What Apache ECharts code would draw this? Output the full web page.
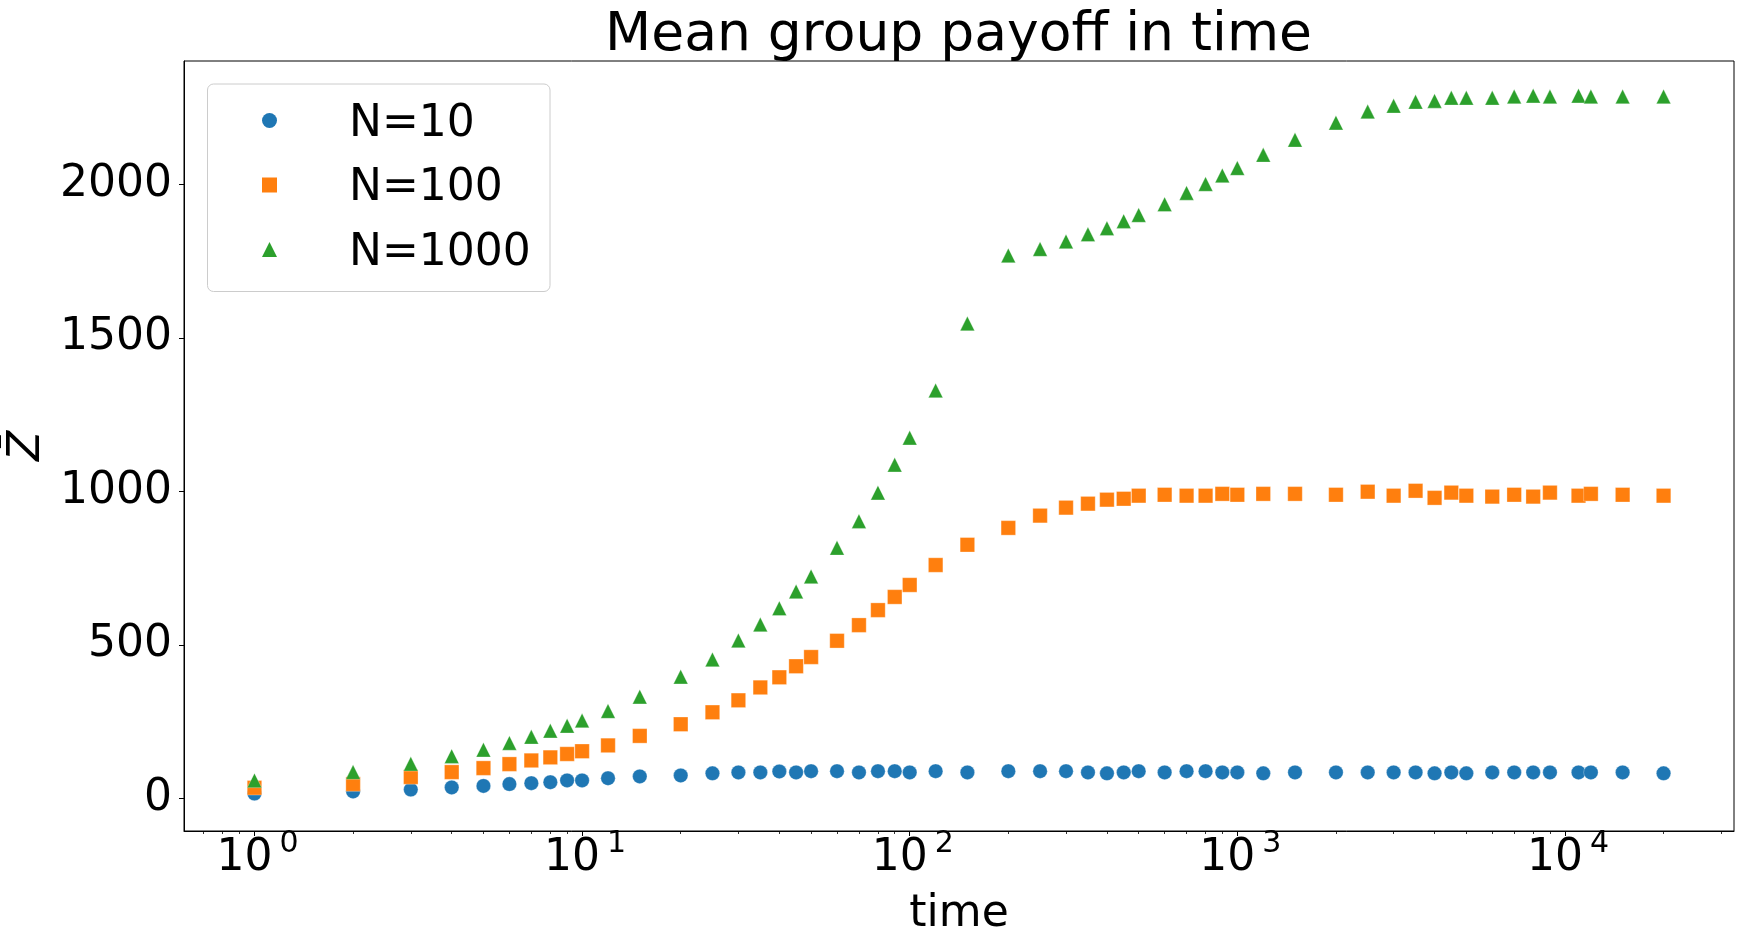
<!DOCTYPE html>
<html><head><meta charset="utf-8">
<script src="https://cdn.jsdelivr.net/npm/echarts@6/dist/echarts.min.js"></script>
<style>html,body{margin:0;padding:0;background:#fff}#c{width:1744px;height:944px}</style>
</head><body><div id="c"></div>
<script>
// ---- data ----
const times = [1,2,3,4,5,6,7,8,9,10,12,15,20,25,30,35,40,45,50,60,70,80,90,100,120,150,200,250,300,350,400,450,500,600,700,800,900,1000,1200,1500,2000,2500,3000,3500,4000,4500,5000,6000,7000,8000,9000,11000,12000,15000,20000];
const zN10 = [15,22,28,35,40,46,49,52,58,58,65,71,74,81,84,84,87,84,88,88,84,88,88,84,88,84,88,88,88,84,81,84,88,84,88,88,84,84,81,84,84,84,84,84,81,84,81,84,84,84,84,84,84,84,81];
const zN100 = [34,46,69,85,98,111,123,133,144,153,172,203,241,280,319,361,394,430,460,513,564,613,656,695,760,826,881,921,947,960,973,976,986,989,986,986,992,989,992,992,989,999,986,1002,979,996,986,983,989,983,996,986,992,989,986];
const zN1000 = [58,85,112,137,158,180,200,220,236,253,284,331,396,452,514,566,619,674,723,816,903,996,1087,1175,1329,1547,1769,1790,1815,1838,1858,1881,1901,1936,1973,2002,2030,2054,2097,2146,2202,2238,2257,2270,2273,2283,2283,2283,2287,2290,2287,2290,2287,2287,2287];
const seriesNames = ['N=10','N=100','N=1000'];
const xMajorTicks = [1,10,100,1000,10000];
const xMinorTicks = [0.7,0.8,0.9,2,3,4,5,6,7,8,9,20,30,40,50,60,70,80,90,200,300,400,500,600,700,800,900,2000,3000,4000,5000,6000,7000,8000,9000,20000,30000];
const yTicks = [0,500,1000,1500,2000];
const titleText = 'Mean group payoff in time';
const xName = 'time';
const yName = 'Z\u0304';

const FONT = 'DejaVu Sans';
const colors = ['#1f77b4','#ff7f0e','#2ca02c'];
const symbols = ['circle','rect','triangle'];
const legendIcons = ['circle','rect','triangle'];
const allZ = [zN10, zN100, zN1000];

const chart = echarts.init(document.getElementById('c'), null, {renderer:'canvas'});
const option = {
  animation: false,
  backgroundColor: '#fff',
  textStyle: {fontFamily: FONT},
  title: {
    text: titleText, left: 958.5, top: 6, padding: 0, textAlign: 'center',
    textStyle: {fontFamily: FONT, fontSize: 53.5, fontWeight: 'normal', color: '#000', lineHeight: 60}
  },
  grid: {left: 184, right: 10, top: 61, bottom: 113, show: true, borderColor: '#000', borderWidth: 1, containLabel: false, outerBoundsMode: 'none'},
  legend: {
    orient: 'vertical', left: 262, top: 94.5, padding: 0, itemWidth: 15, itemHeight: 15, itemGap: 12.5,
    z: 5, selectedMode: false,
    formatter: name => '{g|}{t|' + name + '}',
    textStyle: {
      fontFamily: FONT, fontSize: 44, lineHeight: 50, color: '#000',
      rich: {
        g: {width: 67, lineHeight: 50},
        t: {fontFamily: FONT, fontSize: 44, lineHeight: 50, padding: [8,0,0,0], color: '#000'}
      }
    },
    data: seriesNames.map((n, i) => ({name: n, icon: legendIcons[i], itemStyle: {color: colors[i], borderWidth: 0}}))
  },
  graphic: [{
    type: 'rect', z: 3, silent: true,
    shape: {x: 207.5, y: 84, width: 342.5, height: 207.5, r: 6},
    style: {fill: 'rgba(255,255,255,0.8)', stroke: '#cccccc', lineWidth: 1}
  }],
  xAxis: [{
    type: 'log', logBase: 10, min: 0.6094, max: 32810, position: 'bottom',
    axisLine: {show: true, onZero: false, lineStyle: {color: '#000', width: 1}},
    axisTick: {show: true, customValues: xMajorTicks, length: 5, lineStyle: {color: '#000', width: 1}},
    axisLabel: {
      customValues: xMajorTicks, margin: 6, color: '#000',
      formatter: v => '{b|10}{s|' + Math.round(Math.log10(v)) + '}',
      rich: {
        b: {fontFamily: FONT, fontSize: 44, lineHeight: 44, verticalAlign: 'bottom', padding: [0,0,0,6], color: '#000'},
        s: {fontFamily: FONT, fontSize: 30, lineHeight: 30, verticalAlign: 'bottom', padding: [0,0,22,7], color: '#000'}
      }
    },
    splitLine: {show: false}, minorTick: {show: false}, minorSplitLine: {show: false},
    name: xName, nameLocation: 'middle', nameGap: 62,
    nameTextStyle: {fontFamily: FONT, fontSize: 44, lineHeight: 44, color: '#000'}
  }, {
    type: 'log', logBase: 10, min: 0.6094, max: 32810, position: 'bottom',
    axisLine: {show: false, onZero: false},
    axisTick: {show: true, customValues: xMinorTicks, length: 3, lineStyle: {color: '#000', width: 0.8}},
    axisLabel: {show: false},
    splitLine: {show: false}
  }],
  yAxis: {
    type: 'value', min: -107, max: 2403,
    axisLine: {show: true, onZero: false, lineStyle: {color: '#000', width: 1}},
    axisTick: {show: true, customValues: yTicks, length: 5, lineStyle: {color: '#000', width: 1}},
    axisLabel: {customValues: yTicks, margin: 12, fontFamily: FONT, fontSize: 44, color: '#000', formatter: v => String(v)},
    splitLine: {show: false},
    name: yName, nameLocation: 'middle', nameRotate: 90, nameGap: 107,
    nameTextStyle: {fontFamily: FONT, fontSize: 44, lineHeight: 44, fontStyle: 'italic', color: '#000'}
  },
  series: seriesNames.map((n, i) => ({
    type: 'scatter', name: n, xAxisIndex: 0, yAxisIndex: 0,
    symbol: symbols[i], symbolSize: 14.5,
    data: times.map((t, k) => [t, allZ[i][k]]),
    itemStyle: {color: colors[i], opacity: 1, borderColor: 'rgba(255,255,255,0.6)', borderWidth: 0.5},
    emphasis: {disabled: true}
  }))
};
chart.setOption(option);
</script>
</body></html>
